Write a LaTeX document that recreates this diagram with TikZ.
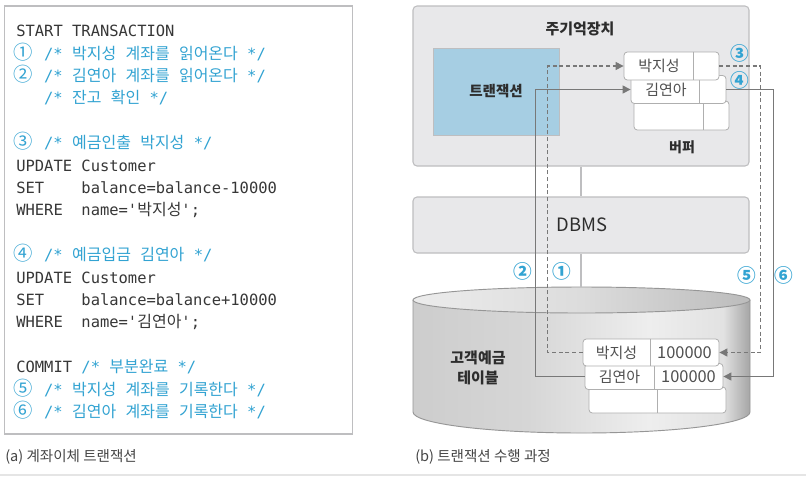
\documentclass[tikz,border=0pt]{standalone}
\usepackage{fontspec}
\setmainfont{Noto Sans CJK KR}
\newfontfamily\codefont{DejaVu Sans Mono}
\newfontfamily\krfont{Noto Sans CJK KR}
\usetikzlibrary{arrows.meta}
\definecolor{codeblue}{RGB}{50,163,210}
\definecolor{codegray}{RGB}{55,55,55}
\definecolor{captc}{RGB}{70,70,70}
\definecolor{boxfill}{RGB}{232,232,234}
\definecolor{boxline}{RGB}{190,190,192}
\definecolor{tranfill}{RGB}{166,206,227}
\definecolor{rowline}{RGB}{175,175,175}
\definecolor{connc}{RGB}{120,120,120}
\definecolor{cylline}{RGB}{150,150,150}
\definecolor{diagtext}{RGB}{45,45,45}
\definecolor{rowtext}{RGB}{80,80,80}
\definecolor{cba}{RGB}{205,205,205}
\definecolor{cbb}{RGB}{214,214,214}
\definecolor{cbc}{RGB}{238,238,238}
\definecolor{cbd}{RGB}{226,226,226}
\definecolor{cbe}{RGB}{165,165,165}
\definecolor{cta}{RGB}{236,236,236}
\definecolor{ctb}{RGB}{220,220,220}
\definecolor{ctc}{RGB}{188,188,188}
\pgfdeclarehorizontalshading{cylbody}{100bp}{color(0bp)=(cba); color(25bp)=(cba); color(42bp)=(cbb); color(60bp)=(cbc); color(71bp)=(cbd); color(75bp)=(cbe); color(100bp)=(cbe)}
\pgfdeclarehorizontalshading{cyltop}{100bp}{color(0bp)=(cta); color(25bp)=(cta); color(50bp)=(ctb); color(75bp)=(ctc); color(100bp)=(ctc)}
\newcommand\K[1]{{\krfont\fontsize{12pt}{14pt}\selectfont #1}}
\newcommand\cn[1]{\makebox[13.95pt][l]{\hspace*{-1.8pt}{\krfont\fontsize{14.5pt}{14pt}\selectfont #1}}}
\frenchspacing
\tikzset{
  code/.style={anchor=base west, inner sep=0pt, font=\codefont\fontsize{11.6pt}{14pt}\selectfont, text=codegray},
  codeb/.style={code, text=codeblue},
  membox/.style={draw=boxline, fill=boxfill, rounded corners=3pt, line width=0.8pt, inner sep=0pt},
  tranbox/.style={draw=boxline, fill=tranfill, line width=0.6pt, inner sep=0pt},
  rowbox/.style={draw=rowline, fill=white, rounded corners=2.5pt, inner sep=0pt, line width=0.6pt},
  divider/.style={draw=rowline, line width=0.6pt},
  conn/.style={draw=connc, line width=0.8pt, -{Triangle[length=6pt,width=6pt]}},
  dconn/.style={conn, dash pattern=on 3pt off 2pt},
  num/.style={inner sep=0pt, text=codeblue, font=\fontsize{14pt}{16pt}\selectfont\bfseries},
  btitle/.style={inner sep=0pt, text=diagtext, font=\fontsize{11.25pt}{14pt}\selectfont\bfseries},
  rowtxt/.style={inner sep=0pt, text=rowtext, font=\fontsize{11.25pt}{14pt}\selectfont},
  rownum/.style={inner sep=0pt, text=rowtext, font=\fontsize{12.3pt}{14pt}\selectfont},
  caption/.style={anchor=west, inner sep=0pt, text=captc, font=\fontsize{10.9pt}{13pt}\selectfont},
}
\begin{document}
\begin{tikzpicture}[x=0.75pt, y=-0.75pt]
\useasboundingbox (0,0) rectangle (806,476);
\fill[white] (0,0) rectangle (806,476);
\draw[black!10, line width=0.8pt] (0,475) -- (806,475);

% ---------- (a) code box ----------
\node[draw=boxline, line width=1.1pt, fill=white, inner sep=0pt,
      minimum width=348*0.75pt, minimum height=428*0.75pt] (codebox) at (178.5,220) {};
\node[code]  (l0)  at (16,36.7)  {START~TRANSACTION};
\node[codeb] (l1)  at (16,59.1)  {\cn{①}~/*~\K{박지성}~\K{계좌를}~\K{읽어온다}~*/};
\node[codeb] (l2)  at (16,81.5)  {\cn{②}~/*~\K{김연아}~\K{계좌를}~\K{읽어온다}~*/};
\node[codeb] (l3)  at (43.9,103.9) {/*~\K{잔고}~\K{확인}~*/};
\node[codeb] (l5)  at (16,148.7) {\cn{③}~/*~\K{예금인출}~\K{박지성}~*/};
\node[code]  (l6)  at (16,171.1) {UPDATE~Customer};
\node[code]  (l7)  at (16,193.5) {SET~~~~balance=balance-10000};
\node[code]  (l8)  at (16,215.9) {WHERE~~name=\textquotesingle\K{박지성}\textquotesingle;};
\node[codeb] (l10) at (16,260.7) {\cn{④}~/*~\K{예금입금}~\K{김연아}~*/};
\node[code]  (l11) at (16,283.1) {UPDATE~Customer};
\node[code]  (l12) at (16,305.5) {SET~~~~balance=balance+10000};
\node[code]  (l13) at (16,327.9) {WHERE~~name=\textquotesingle\K{김연아}\textquotesingle;};
\node[code]  (l15) at (16,372.7) {COMMIT~\textcolor{codeblue}{/*~\K{부분완료}~*/}};
\node[codeb] (l16) at (16,395.1) {\cn{⑤}~/*~\K{박지성}~\K{계좌를}~\K{기록한다}~*/};
\node[codeb] (l17) at (16,417.5) {\cn{⑥}~/*~\K{김연아}~\K{계좌를}~\K{기록한다}~*/};
\node[caption] (capa) at (5,457) {(a) 계좌이체 트랜잭션};

% ---------- (b) diagram ----------
\node[membox, minimum width=336*0.75pt, minimum height=160*0.75pt] (mem) at (581,86) {};
\node[btitle] (memt) at (580,29) {주기억장치};
\node[tranbox, minimum width=126*0.75pt, minimum height=87*0.75pt] (tran) at (496,91.5) {};
\node[btitle, font=\fontsize{10.9pt}{14pt}\selectfont\bfseries] (trant) at (496,91) {트랜잭션};

% buffer rows
\node[rowbox, minimum width=95*0.75pt, minimum height=29*0.75pt] (b3) at (681.5,115.5) {};
\draw[divider] (703,0 |- b3.north) -- (703,0 |- b3.south);
\node[rowbox, minimum width=95*0.75pt, minimum height=28*0.75pt] (b2) at (678.5,89.5) {};
\draw[divider] (699,0 |- b2.north) -- (699,0 |- b2.south);
\node[rowbox, minimum width=95*0.75pt, minimum height=28*0.75pt] (b1) at (671.5,66) {};
\draw[divider] (693,0 |- b1.north) -- (693,0 |- b1.south);
\node[rowtxt] (b1t) at (659,66) {박지성};
\node[rowtxt] (b2t) at (666,89.5) {김연아};
\node[btitle, font=\fontsize{10.5pt}{14pt}\selectfont\bfseries] (buft) at (682,147) {버퍼};

% DBMS
\node[membox, minimum width=336*0.75pt, minimum height=56*0.75pt] (dbms) at (581,225) {};
\node[inner sep=0pt, text=diagtext, font=\fontsize{13.8pt}{16pt}\selectfont] (dbmst) at (582,225) {DBMS};

% cylinder
\coordinate (cyltop) at (581,287);
\path[shading=cylbody] (413,300) -- (413,412)
   arc[start angle=180, end angle=360, x radius=126.375pt, y radius=15.75pt]
   -- (750,300)
   arc[start angle=0, end angle=-180, x radius=126.375pt, y radius=9.75pt] -- cycle;
\draw[cylline, line width=0.7pt] (413,300) -- (413,412)
   arc[start angle=180, end angle=360, x radius=126.375pt, y radius=15.75pt]
   -- (750,300);
\draw[cylline, line width=0.7pt, shading=cyltop] (581.5,300) ellipse[x radius=126.375pt, y radius=9.75pt];
\node[btitle, align=center, font=\fontsize{11.25pt}{15pt}\selectfont\bfseries] (tablet) at (478,368) {고객예금\\테이블};

% connection lines between layers
\draw[boxline, line width=0.8pt] (mem.south) -- (dbms.north);
\draw[boxline, line width=0.8pt] (dbms.south) -- (cyltop);

% table rows
\node[rowbox, minimum width=137*0.75pt, minimum height=26*0.75pt] (t3) at (657.5,400) {};
\draw[divider] (657,0 |- t3.north) -- (657,0 |- t3.south);
\node[rowbox, minimum width=138*0.75pt, minimum height=26*0.75pt] (t2) at (654,376.5) {};
\draw[divider] (654,0 |- t2.north) -- (654,0 |- t2.south);
\node[rowbox, minimum width=136*0.75pt, minimum height=27*0.75pt] (t1) at (651,352.5) {};
\draw[divider] (650,0 |- t1.north) -- (650,0 |- t1.south);
\node[rowtxt] (t1a) at (616.5,352.5) {박지성};
\node[rownum] (t1b) at (684.5,352.5) {100000};
\node[rowtxt] (t2a) at (619.5,376.5) {김연아};
\node[rownum] (t2b) at (688.5,376.5) {100000};

% connectors
\draw[dconn] (t1.west) -- ++(-35,0) |- (b1.west);
\draw[conn]  (t2.west) -- ++(-49,0) |- (b2.west);
\draw[dconn] (b1.east) -- ++(41,0) |- (t1.east);
\draw[conn]  (b2.east) -- ++(47,0) |- (t2.east);

% step numbers
\node[num] (n3) at (739.5,53.7) {③};
\node[num] (n4) at (739.5,80.5) {④};
\node[num] (n2) at (523.3,271) {②};
\node[num] (n1) at (561.7,271) {①};
\node[num] (n5) at (747,275) {⑤};
\node[num] (n6) at (783.7,275) {⑥};

\node[caption] (capb) at (415,457) {(b) 트랜잭션 수행 과정};
\end{tikzpicture}
\end{document}
